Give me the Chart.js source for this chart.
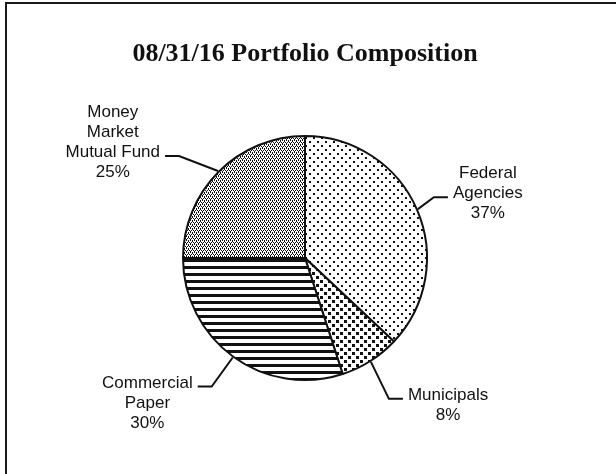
<!DOCTYPE html>
<html>
<head>
<meta charset="utf-8">
<script src="https://cdn.jsdelivr.net/npm/chart.js@4/dist/chart.umd.min.js"></script>
<style>
  html, body { margin: 0; padding: 0; background: #fff; }
  #wrap { position: relative; width: 616px; height: 474px; overflow: hidden; }
  #frame {
    position: absolute; left: 5px; top: 2px; right: -10px; bottom: -10px;
    border-left: 2px solid #1a1a1a; border-top: 2px solid #1a1a1a;
  }
  canvas { position: absolute; left: 0; top: 0; }
</style>
</head>
<body>
<div id="wrap">
  <div id="frame"></div>
  <canvas id="pie" width="616" height="474"></canvas>
</div>
<script>
const title = "08/31/16 Portfolio Composition"
const categories = ["Federal Agencies", "Municipals", "Commercial Paper", "Money Market Mutual Fund"]
const labelLines = [["Federal", "Agencies"], ["Municipals"], ["Commercial", "Paper"], ["Money", "Market", "Mutual Fund"]]
const values = [37, 8, 30, 25]

Chart.defaults.font.family = '"Liberation Sans", Arial, sans-serif'

// --- fill patterns (scanned b/w print look) ---
function makePattern(w, h, draw) {
  const c = document.createElement("canvas")
  c.width = w
  c.height = h
  const g = c.getContext("2d")
  g.fillStyle = "#fff"
  g.fillRect(0, 0, w, h)
  g.fillStyle = "#111"
  draw(g)
  return document.getElementById("pie").getContext("2d").createPattern(c, "repeat")
}

const sparseDots = makePattern(8, 8, (g) => {
  g.fillRect(1, 1, 2, 2)
  g.fillRect(5, 5, 2, 2)
})
const bigDots = makePattern(8, 8, (g) => {
  g.fillRect(0, 0, 3, 3)
  g.fillRect(4, 4, 3, 3)
})
const stripes = makePattern(4, 7, (g) => {
  g.fillRect(0, 0, 4, 3)
})
const stipple = makePattern(4, 4, (g) => {
  g.fillRect(0, 0, 1, 1)
  g.fillRect(2, 0, 1, 1)
  g.fillRect(1, 2, 1, 1)
  g.fillRect(3, 2, 1, 1)
  g.fillRect(0, 1, 1, 1)
  g.fillRect(2, 3, 1, 1)
})

// leader line shape per slice: elbow offset from the rim, which text line it points at
const leaders = [
  { dx: 16, dy: -12, side: 1, line: 1 },
  { dx: 18, dy: 37, side: 1, line: 0 },
  { dx: -21, dy: 29, side: -1, line: 0 },
  { dx: -39, dy: -15, side: -1, line: 2 },
]

const annotate = {
  id: "annotate",
  afterDraw: (chart) => {
    const ctx = chart.ctx
    ctx.save()
    ctx.fillStyle = "#111"
    ctx.textAlign = "center"
    ctx.textBaseline = "alphabetic"
    ctx.font = 'bold 26px "Liberation Serif", "Times New Roman", serif'
    ctx.fillText(title, 305, 61)

    ctx.font = '17px "Liberation Sans", Arial, sans-serif'
    ctx.strokeStyle = "#111"
    ctx.lineWidth = 2
    const meta = chart.getDatasetMeta(0)
    meta.data.forEach((arc, i) => {
      const mid = (arc.startAngle + arc.endAngle) / 2
      const r = arc.outerRadius + 1
      const ex = arc.x + Math.cos(mid) * r
      const ey = arc.y + Math.sin(mid) * r
      const L = leaders[i]
      const bx = ex + L.dx
      const by = ey + L.dy
      const endX = bx + L.side * 14
      ctx.beginPath()
      ctx.moveTo(ex, ey)
      ctx.lineTo(bx, by)
      ctx.lineTo(endX, by)
      ctx.stroke()

      const lines = labelLines[i].concat([values[i] + "%"])
      const w = ctx.measureText(lines[L.line]).width
      const cx = endX + L.side * (5 + w / 2)
      const base = by + 1 - L.line * 20
      lines.forEach((t, k) => ctx.fillText(t, cx, base + k * 20))
    })
    ctx.restore()
  },
}

new Chart(document.getElementById("pie"), {
  type: "pie",
  plugins: [annotate],
  data: {
    labels: categories,
    datasets: [
      {
        data: values,
        backgroundColor: [sparseDots, bigDots, stripes, stipple],
        borderColor: "#111",
        borderWidth: 2,
        borderAlign: "center",
      },
    ],
  },
  options: {
    responsive: false,
    animation: false,
    layout: { padding: { left: 181, right: 187, top: 135, bottom: 93 } },
    plugins: {
      legend: { display: false },
      tooltip: { enabled: false },
    },
  },
})
</script>
</body>
</html>
